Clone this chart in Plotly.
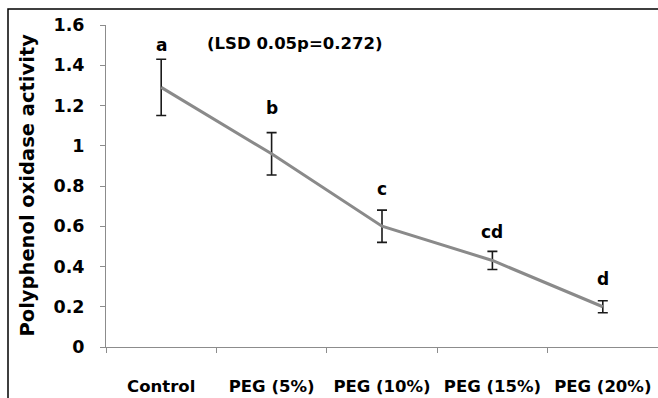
import plotly.graph_objects as go

# Treatments and measured polyphenol oxidase activity
treatments = ["Control", "PEG (5%)", "PEG (10%)", "PEG (15%)", "PEG (20%)"]
activity = [1.29, 0.96, 0.60, 0.43, 0.20]
std_err = [0.14, 0.105, 0.08, 0.045, 0.03]
groups = ["a", "b", "c", "cd", "d"]
lsd_note = "(LSD 0.05p=0.272)"
y_ticks = [0, 0.2, 0.4, 0.6, 0.8, 1, 1.2, 1.4, 1.6]

FONT = "DejaVu Sans"
letter_shift = [14, 25, 21, 19, 22]  # px above the error-bar caps

fig = go.Figure()
fig.add_trace(go.Scatter(
    x=treatments, y=activity, mode="lines",
    line=dict(color="#8a8a8a", width=3),
    error_y=dict(type="data", array=std_err, visible=True,
                 color="#1a1a1a", thickness=1.6, width=5),
    showlegend=False, hoverinfo="skip",
))

for cat, v, e, g, s in zip(treatments, activity, std_err, groups, letter_shift):
    fig.add_annotation(x=cat, y=v + e, text=f"<b>{g}</b>", showarrow=False,
                       yshift=s, yanchor="middle", xanchor="center",
                       font=dict(family=FONT, size=17, color="black"))

fig.add_annotation(xref="paper", yref="paper", x=0.342, y=0.941,
                   text=f"<b>{lsd_note}</b>", showarrow=False,
                   xanchor="center", yanchor="middle",
                   font=dict(family=FONT, size=16.5, color="black"))

fig.add_annotation(xref="paper", yref="paper", x=-0.1422, y=0.503,
                   text="<b>Polyphenol oxidase activity</b>", showarrow=False,
                   textangle=-90, xanchor="center", yanchor="middle",
                   font=dict(family=FONT, size=19.5, color="black"))

# outer chart frame (runs off the right and bottom edges)
fig.add_shape(type="rect", xref="paper", yref="paper",
              x0=(8 - 106) / 552, x1=1.1, y0=-0.3, y1=(347 - 9) / 322,
              line=dict(color="black", width=1.5), fillcolor="rgba(0,0,0,0)",
              layer="below")

fig.update_layout(
    width=658, height=398,
    margin=dict(l=106, r=0, t=25, b=51),
    plot_bgcolor="white", paper_bgcolor="white",
    xaxis=dict(
        type="category", range=[-0.5, len(treatments) - 0.5],
        showline=True, linecolor="#8c8c8c", linewidth=1,
        ticks="outside", tickson="boundaries", ticklen=5, tickcolor="#8c8c8c",
        showgrid=False, zeroline=False, ticklabelstandoff=24,
        tickfont=dict(family=FONT, size=16.5, color="black"),
        tickprefix="<b>", ticksuffix="</b>",
    ),
    yaxis=dict(
        range=[0, 1.6], tickvals=y_ticks,
        ticktext=[f"<b>{t:g}</b>" for t in y_ticks],
        showline=True, linecolor="#8c8c8c", linewidth=1,
        ticks="outside", ticklen=5, tickcolor="#8c8c8c",
        showgrid=False, zeroline=False, ticklabelstandoff=12,
        tickfont=dict(family=FONT, size=17.5, color="black"),
    ),
)

fig.write_html("out.html")
